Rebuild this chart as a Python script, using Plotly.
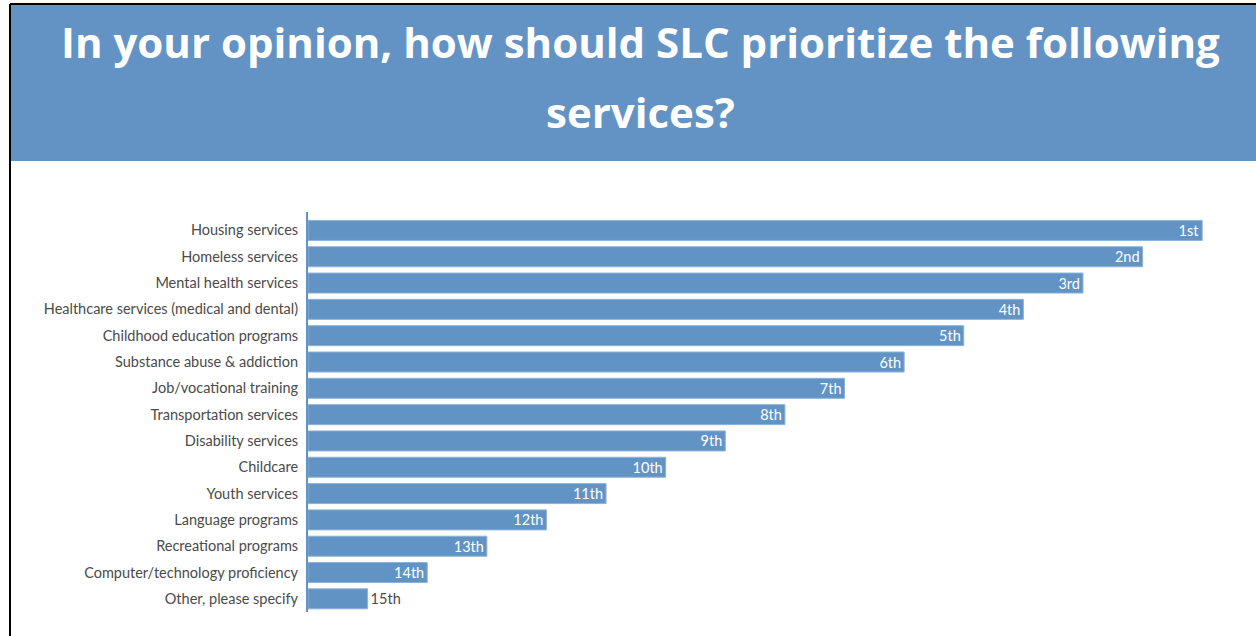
import plotly.graph_objects as go

categories = [
    "Housing services", "Homeless services", "Mental health services",
    "Healthcare services (medical and dental)", "Childhood education programs",
    "Substance abuse & addiction", "Job/vocational training", "Transportation services",
    "Disability services", "Childcare", "Youth services", "Language programs",
    "Recreational programs", "Computer/technology proficiency", "Other, please specify",
]
scores = [15, 14, 13, 12, 11, 10, 9, 8, 7, 6, 5, 4, 3, 2, 1]
rank_labels = ["1st", "2nd", "3rd", "4th", "5th", "6th", "7th", "8th", "9th",
               "10th", "11th", "12th", "13th", "14th", "15th"]
title_lines = ["In your opinion, how should SLC prioritize the following", "services?"]

W, H = 1256, 636
L, R, T, B = 308, 24, 212, 24
pw, ph = W - L - R, H - T - B

def px(x):
    return (x - L) / pw

def py(y):
    return (H - B - y) / ph

bar_color = "#6193c5"
positions = ["inside"] * (len(scores) - 1) + ["outside"]
text_colors = ["white"] * (len(scores) - 1) + ["#4a4a4a"]

fig = go.Figure(go.Bar(
    x=scores, y=categories, orientation="h", text=rank_labels,
    textposition=positions, insidetextanchor="end", constraintext="none",
    textfont=dict(family="Lato, sans-serif", size=14.5, color=text_colors),
    marker=dict(color=bar_color, line=dict(color="#8db2d8", width=1)),
    cliponaxis=False, hoverinfo="skip",
))

fig.update_layout(
    width=W, height=H, margin=dict(l=L, r=R, t=T, b=B),
    paper_bgcolor="white", plot_bgcolor="white", showlegend=False,
    bargap=0.24,
    font=dict(family="Lato, sans-serif", color="#4a4a4a"),
    xaxis=dict(range=[0, 15.5], visible=False, fixedrange=True),
    yaxis=dict(range=[14.5, -0.7], showgrid=False, zeroline=False, ticks="",
               showline=True, linecolor=bar_color, linewidth=2, fixedrange=True,
               tickfont=dict(size=14.5, color="#4a4a4a"), ticklabelstandoff=5),
    shapes=[
        dict(type="rect", xref="paper", yref="paper", x0=px(11), x1=px(1262),
             y0=py(161), y1=py(5), fillcolor="#6393c4", line=dict(width=0), layer="below"),
        dict(type="line", xref="paper", yref="paper", x0=px(10), x1=px(10),
             y0=py(645), y1=py(4), line=dict(color="black", width=2)),
        dict(type="line", xref="paper", yref="paper", x0=px(10), x1=px(1262),
             y0=py(4), y1=py(4), line=dict(color="black", width=2)),
    ],
    annotations=[
        dict(text=title_lines[0], xref="paper", yref="paper", x=px(640), y=py(42),
             xanchor="center", yanchor="middle", showarrow=False,
             font=dict(family="Open Sans, sans-serif", size=42, color="white", weight="bold")),
        dict(text=title_lines[1], xref="paper", yref="paper", x=px(640), y=py(111),
             xanchor="center", yanchor="middle", showarrow=False,
             font=dict(family="Open Sans, sans-serif", size=42, color="white", weight="bold")),
    ],
)

fig.write_html(
    "out.html",
    config={"displayModeBar": False},
    post_script="document.body.style.margin='0';document.body.style.overflow='hidden';",
)
